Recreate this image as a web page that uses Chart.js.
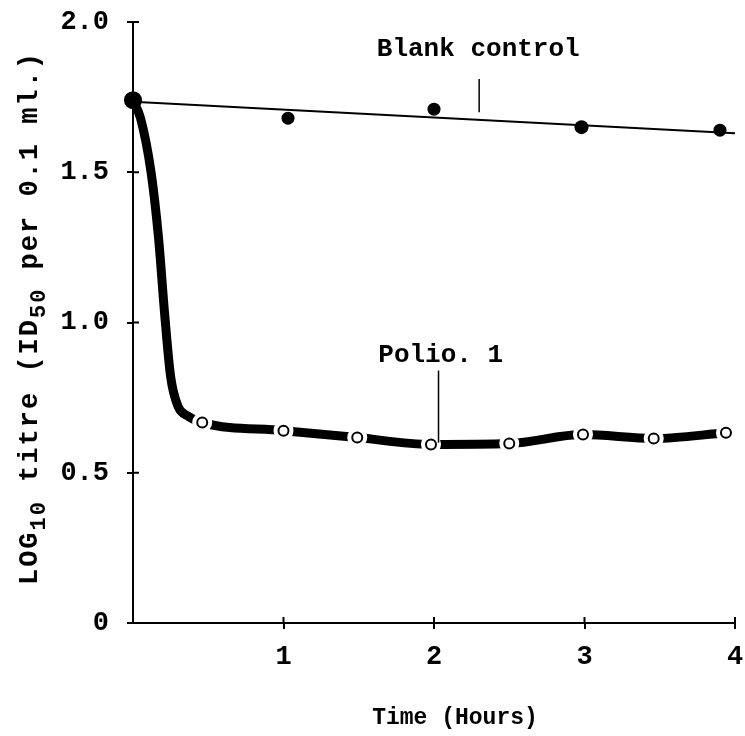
<!DOCTYPE html>
<html>
<head>
<meta charset="utf-8">
<script src="https://cdn.jsdelivr.net/npm/chart.js"></script>
<style>
  body { margin: 0; background: #fff; }
  #wrap { width: 745px; height: 736px; }
</style>
</head>
<body>
<div id="wrap"><canvas id="myChart" width="745" height="736"></canvas></div>
<script>
// values
var yTicks = [0, 0.5, 1.0, 1.5, 2.0];
var yTickLabels = ['0', '0.5', '1.0', '1.5', '2.0'];
var xTicks = [1, 2, 3, 4];

var blankX = [0, 1.03, 2.0, 2.98, 3.9];
var blankY = [1.74, 1.68, 1.71, 1.65, 1.64];
var blankFitX = [0, 4];
var blankFitY = [1.735, 1.63];

var polioX = [0.46, 1.0, 1.49, 1.98, 2.5, 2.99, 3.46, 3.94];
var polioY = [0.667, 0.64, 0.617, 0.594, 0.597, 0.627, 0.614, 0.633];
// thick curve (drop at the start, then through the circles)
var polioCurveX = [0, 0.05, 0.12, 0.17, 0.21, 0.25, 0.30, 0.36, 0.46, 1.0, 1.49, 1.98, 2.5, 2.99, 3.46, 3.94];
var polioCurveY = [1.74, 1.68, 1.50, 1.28, 1.03, 0.82, 0.72, 0.69, 0.667, 0.64, 0.617, 0.594, 0.597, 0.627, 0.614, 0.633];

var FONT = "'Liberation Mono', 'DejaVu Sans Mono', monospace";

function pts(xs, ys) {
  var out = [];
  for (var i = 0; i < xs.length; i++) out.push({ x: xs[i], y: ys[i] });
  return out;
}

// ticks that cross the axis line, like the hand drawn ones
var crossTicks = {
  id: 'crossTicks',
  afterDraw: function (chart) {
    var ctx = chart.ctx, a = chart.chartArea;
    var xs = chart.scales.x, ys = chart.scales.y;
    ctx.save();
    ctx.strokeStyle = '#000';
    ctx.lineWidth = 2;
    ctx.beginPath();
    for (var i = 0; i < yTicks.length; i++) {
      var py = ys.getPixelForValue(yTicks[i]);
      ctx.moveTo(a.left, py);
      ctx.lineTo(a.left + 6, py);
    }
    for (var j = 0; j < xTicks.length; j++) {
      var px = xs.getPixelForValue(xTicks[j]);
      ctx.moveTo(px, a.bottom);
      ctx.lineTo(px, a.bottom - 6);
    }
    ctx.stroke();
    ctx.restore();
  }
};

// labels with leader lines, placed in data units
var notes = [
  { text: 'Blank control', x: 1.62, y: 1.91, lx: 2.3, ly1: 1.81, ly2: 1.70 },
  { text: 'Polio. 1', x: 1.63, y: 0.89, lx: 2.03, ly1: 0.84, ly2: 0.60 }
];
var notesPlugin = {
  id: 'notes',
  afterDraw: function (chart) {
    var ctx = chart.ctx, xs = chart.scales.x, ys = chart.scales.y;
    ctx.save();
    ctx.fillStyle = '#000';
    ctx.strokeStyle = '#000';
    ctx.font = 'bold 26px ' + FONT;
    ctx.textBaseline = 'middle';
    ctx.lineWidth = 1.5;
    notes.forEach(function (n) {
      ctx.fillText(n.text, xs.getPixelForValue(n.x), ys.getPixelForValue(n.y));
      ctx.beginPath();
      ctx.moveTo(xs.getPixelForValue(n.lx), ys.getPixelForValue(n.ly1));
      ctx.lineTo(xs.getPixelForValue(n.lx), ys.getPixelForValue(n.ly2));
      ctx.stroke();
    });
    // x title
    ctx.font = 'bold 23px ' + FONT;
    ctx.textAlign = 'center';
    ctx.fillText('Time (Hours)', 455, 718);
    ctx.restore();
  }
};

// y title with subscripts
var yTitle = [
  { t: 'LOG', sub: false }, { t: '10', sub: true }, { t: ' titre (ID', sub: false },
  { t: '50', sub: true }, { t: ' per 0.1 ml.)', sub: false }
];
var yTitlePlugin = {
  id: 'yTitle',
  afterDraw: function (chart) {
    var ctx = chart.ctx;
    var big = 'bold 27px ' + FONT, small = 'bold 22px ' + FONT;
    ctx.save();
    ctx.letterSpacing = '2px';
    var total = 0;
    yTitle.forEach(function (s) {
      ctx.font = s.sub ? small : big;
      total += ctx.measureText(s.t).width;
    });
    ctx.translate(30, 318);
    ctx.rotate(-Math.PI / 2);
    ctx.textBaseline = 'middle';
    ctx.fillStyle = '#000';
    var x = -total / 2;
    yTitle.forEach(function (s) {
      ctx.font = s.sub ? small : big;
      ctx.fillText(s.t, x, s.sub ? 9 : 0);
      x += ctx.measureText(s.t).width;
    });
    ctx.restore();
  }
};

var ctx = document.getElementById('myChart');
new Chart(ctx, {
  type: 'scatter',
  data: {
    datasets: [
      {
        label: 'Polio. 1 points',
        data: pts(polioX, polioY),
        showLine: false,
        pointRadius: 5,
        pointBackgroundColor: '#fff',
        pointBorderColor: '#000',
        pointBorderWidth: 2,
        order: 0
      },
      {
        // white gap round each open circle
        label: 'halo',
        data: pts(polioX, polioY),
        showLine: false,
        pointRadius: 10,
        pointBackgroundColor: '#fff',
        pointBorderColor: '#fff',
        pointBorderWidth: 0,
        order: 1
      },
      {
        label: 'Blank control',
        data: pts(blankX, blankY),
        showLine: false,
        pointRadius: [9, 6.5, 6.5, 7, 6.5],
        pointBackgroundColor: '#000',
        pointBorderColor: '#000',
        pointBorderWidth: 0,
        order: 0
      },
      {
        label: 'Blank fit',
        data: pts(blankFitX, blankFitY),
        showLine: true,
        borderColor: '#000',
        borderWidth: 2,
        pointRadius: 0,
        order: 2
      },
      {
        label: 'Polio. 1',
        data: pts(polioCurveX, polioCurveY),
        showLine: true,
        borderColor: '#000',
        borderWidth: 9,
        borderCapStyle: 'round',
        borderJoinStyle: 'round',
        cubicInterpolationMode: 'monotone',
        pointRadius: 0,
        order: 3
      }
    ]
  },
  options: {
    responsive: false,
    animation: false,
    clip: false,
    layout: { padding: { top: 22, right: 8, left: 0, bottom: 0 } },
    plugins: {
      legend: { display: false },
      tooltip: { enabled: false }
    },
    scales: {
      x: {
        type: 'linear',
        min: 0,
        max: 4,
        afterFit: function (s) {
          s.height = 113;
          s.paddingLeft = 0;
          s.paddingRight = 0;
        },
        afterBuildTicks: function (s) { s.ticks = xTicks.map(function (v) { return { value: v }; }); },
        border: { color: '#000', width: 2 },
        grid: { drawOnChartArea: false, color: '#000', lineWidth: 2, tickLength: 6 },
        ticks: {
          color: '#000',
          padding: 12,
          maxRotation: 0,
          font: { family: FONT, size: 27, weight: 'bold' }
        }
      },
      y: {
        type: 'linear',
        min: 0,
        max: 2,
        afterFit: function (s) {
          s.width = 133;
          s.paddingTop = 0;
          s.paddingBottom = 0;
        },
        afterBuildTicks: function (s) { s.ticks = yTicks.map(function (v) { return { value: v }; }); },
        border: { color: '#000', width: 2 },
        grid: { drawOnChartArea: false, color: '#000', lineWidth: 2, tickLength: 6 },
        ticks: {
          color: '#000',
          padding: 18,
          font: { family: FONT, size: 27, weight: 'bold' },
          callback: function (v) {
            var k = yTicks.indexOf(v);
            return k >= 0 ? yTickLabels[k] : '';
          }
        }
      }
    }
  },
  plugins: [crossTicks, notesPlugin, yTitlePlugin]
});
</script>
</body>
</html>
